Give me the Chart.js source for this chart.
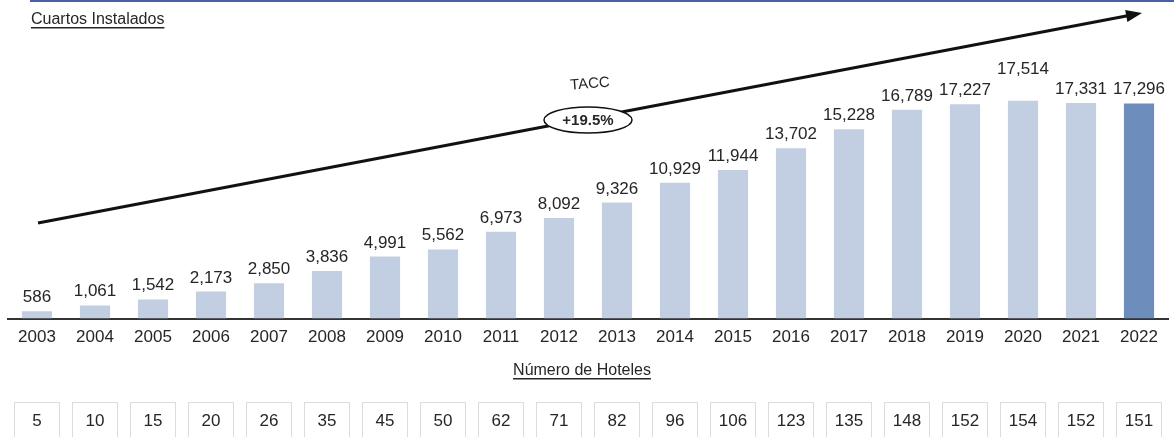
<!DOCTYPE html>
<html>
<head>
<meta charset="utf-8">
<script src="https://cdn.jsdelivr.net/npm/chart.js@4/dist/chart.umd.min.js"></script>
<style>
  html, body { margin: 0; padding: 0; background: #fff; }
  #wrap { width: 1174px; height: 437px; position: relative; }
</style>
</head>
<body>
<div id="wrap"><canvas id="roomsChart"></canvas></div>
<script>
// Data
const years = ["2003","2004","2005","2006","2007","2008","2009","2010","2011","2012",
               "2013","2014","2015","2016","2017","2018","2019","2020","2021","2022"];
const rooms = [586, 1061, 1542, 2173, 2850, 3836, 4991, 5562, 6973, 8092,
               9326, 10929, 11944, 13702, 15228, 16789, 17227, 17514, 17331, 17296];
const hotels = [5, 10, 15, 20, 26, 35, 45, 50, 62, 71,
                82, 96, 106, 123, 135, 148, 152, 154, 152, 151];
const cagrLabel = "TACC";
const cagrValue = "+19.5%";

const lightBar = "#c2cfe2";
const darkBar = "#6d8dbd";
const textColor = "#262626";
const fontFam = "'Liberation Sans', Arial, sans-serif";

// Everything that is not a bar: labels, arrow, CAGR bubble, hotel boxes
const extras = {
    id: "extras",
    afterDatasetsDraw(chart) {
        const ctx = chart.ctx;
        const x = chart.scales.x;
        const meta = chart.getDatasetMeta(0);
        ctx.save();

        // top rule
        ctx.fillStyle = "#4b5fa6";
        ctx.fillRect(30, 0, 1144, 2);

        // title
        ctx.fillStyle = textColor;
        ctx.font = "16px " + fontFam;
        ctx.textAlign = "left";
        ctx.textBaseline = "alphabetic";
        ctx.fillText("Cuartos Instalados", 31, 24);
        let w = ctx.measureText("Cuartos Instalados").width;
        ctx.fillRect(31, 27, w, 1.5);

        // value labels (the peak one is lifted so it clears its neighbours)
        ctx.font = "17px " + fontFam;
        ctx.textAlign = "center";
        const peak = rooms.indexOf(Math.max(...rooms));
        meta.data.forEach((bar, i) => {
            const lift = i === peak ? 27 : 9;
            ctx.fillText(rooms[i].toLocaleString("en-US"), bar.x, bar.y - lift);
        });

        // growth arrow
        const x0 = 38, y0 = 223, x1 = 1142, y1 = 13;
        const ang = Math.atan2(y1 - y0, x1 - x0);
        ctx.strokeStyle = "#111";
        ctx.lineWidth = 3;
        ctx.beginPath();
        ctx.moveTo(x0, y0);
        ctx.lineTo(x1 - 12 * Math.cos(ang), y1 - 12 * Math.sin(ang));
        ctx.stroke();
        ctx.fillStyle = "#111";
        ctx.beginPath();
        ctx.moveTo(x1, y1);
        ctx.lineTo(x1 - 16 * Math.cos(ang) + 6 * Math.sin(ang), y1 - 16 * Math.sin(ang) - 6 * Math.cos(ang));
        ctx.lineTo(x1 - 16 * Math.cos(ang) - 6 * Math.sin(ang), y1 - 16 * Math.sin(ang) + 6 * Math.cos(ang));
        ctx.closePath();
        ctx.fill();

        // CAGR bubble
        const cx = 588, cy = 120;
        ctx.fillStyle = "#fff";
        ctx.strokeStyle = "#111";
        ctx.lineWidth = 1.5;
        ctx.beginPath();
        ctx.ellipse(cx, cy, 44, 13, 0, 0, Math.PI * 2);
        ctx.fill();
        ctx.stroke();
        ctx.fillStyle = textColor;
        ctx.font = "bold 15px " + fontFam;
        ctx.textBaseline = "middle";
        ctx.fillText(cagrValue, cx, cy + 1);
        ctx.font = "15px " + fontFam;
        ctx.save();
        ctx.translate(590, 84);
        ctx.rotate(-0.08);
        ctx.fillText(cagrLabel, 0, 0);
        ctx.restore();

        // hotel count subtitle
        ctx.font = "16px " + fontFam;
        ctx.textBaseline = "alphabetic";
        ctx.fillText("Número de Hoteles", 582, 375);
        w = ctx.measureText("Número de Hoteles").width;
        ctx.fillRect(582 - w / 2, 378, w, 1.5);

        // hotel boxes
        ctx.font = "17px " + fontFam;
        ctx.textBaseline = "middle";
        hotels.forEach((h, i) => {
            const px = x.getPixelForValue(i);
            ctx.strokeStyle = "#dcdcdc";
            ctx.lineWidth = 1;
            ctx.strokeRect(px - 22.5, 402.5, 45, 40);
            ctx.fillStyle = textColor;
            ctx.fillText(String(h), px, 421);
        });

        ctx.restore();
    }
};

document.addEventListener("DOMContentLoaded", () => {
    const ctx = document.getElementById("roomsChart").getContext("2d");
    new Chart(ctx, {
        type: "bar",
        data: {
            labels: years,
            datasets: [{
                data: rooms,
                backgroundColor: rooms.map((v, i) => i === rooms.length - 1 ? darkBar : lightBar),
                categoryPercentage: 1,
                barPercentage: 0.52
            }]
        },
        options: {
            responsive: true,
            maintainAspectRatio: false,
            animation: false,
            layout: { padding: { left: 8, right: 6, top: 40, bottom: 80 } },
            plugins: { legend: { display: false }, tooltip: { enabled: false } },
            scales: {
                x: {
                    grid: { display: false, drawTicks: false },
                    border: { color: "#333", width: 2 },
                    ticks: {
                        color: textColor,
                        font: { family: fontFam, size: 17 },
                        padding: 9,
                        maxRotation: 0,
                        autoSkip: false
                    }
                },
                y: {
                    display: false,
                    min: 0,
                    max: 22400
                }
            }
        },
        plugins: [extras]
    });
});
</script>
</body>
</html>
